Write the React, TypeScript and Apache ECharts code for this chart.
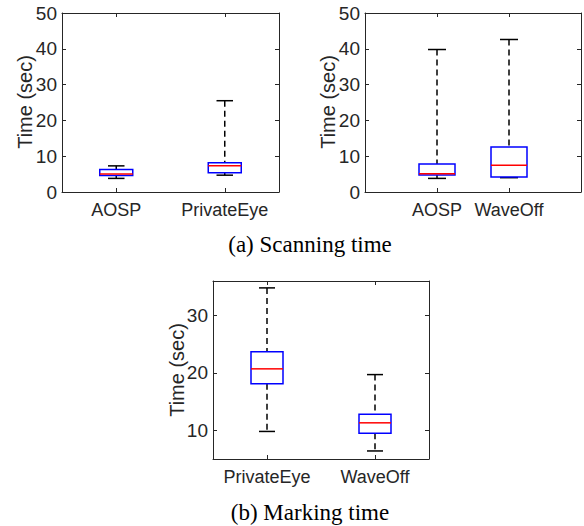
import React, { useEffect, useRef } from "react";
import * as echarts from "echarts";

// ---- data ----
const scanCatsA = ["AOSP", "PrivateEye"];
// [low whisker, Q1, median, Q3, high whisker]
const scanStatsA = [
  [3.8, 4.6, 5.0, 6.3, 7.3],
  [4.7, 5.4, 7.3, 8.2, 25.5],
];
const scanCatsB = ["", "AOSP", "WaveOff", ""];
const scanStatsB = [
  [3.8, 4.75, 5.1, 7.8, 39.8],
  [4.0, 4.2, 7.5, 12.6, 42.6],
];
const scanBIndices = [1, 2];
const markCats = ["PrivateEye", "WaveOff"];
const markStats = [
  [9.8, 18.1, 20.7, 23.7, 34.8],
  [6.4, 9.5, 11.3, 12.8, 19.7],
];
const scanTicks = [0, 10, 20, 30, 40, 50];
const markTicks = [10, 20, 30];
const yName = "Time (sec)";
const captionA = "(a) Scanning time";
const captionB = "(b) Marking time";

const AX = "#262626";
const SANS = "'Liberation Sans', Arial, Helvetica, sans-serif";
const SERIF = "'Liberation Serif', 'Times New Roman', serif";

function makeRender(boxW: number) {
  return (params: any, api: any) => {
    const x = api.value(0);
    const low = api.coord([x, api.value(1)]);
    const q1 = api.coord([x, api.value(2)]);
    const med = api.coord([x, api.value(3)]);
    const q3 = api.coord([x, api.value(4)]);
    const high = api.coord([x, api.value(5)]);
    const cx = low[0];
    const hw = boxW / 2;
    const cw = boxW / 4;
    const dash = { stroke: "#000", lineWidth: 1.5, lineDash: [6, 4], fill: "none" };
    const solid = { stroke: "#000", lineWidth: 1.5, fill: "none" };
    return {
      type: "group",
      children: [
        { type: "line", shape: { x1: cx, y1: high[1], x2: cx, y2: q3[1] }, style: dash },
        { type: "line", shape: { x1: cx, y1: q1[1], x2: cx, y2: low[1] }, style: dash },
        { type: "line", shape: { x1: cx - cw, y1: high[1], x2: cx + cw, y2: high[1] }, style: solid },
        { type: "line", shape: { x1: cx - cw, y1: low[1], x2: cx + cw, y2: low[1] }, style: solid },
        {
          type: "rect",
          shape: { x: cx - hw, y: q3[1], width: boxW, height: q1[1] - q3[1] },
          style: { stroke: "#0000FF", lineWidth: 1.5, fill: "none" },
        },
        {
          type: "line",
          shape: { x1: cx - hw, y1: med[1], x2: cx + hw, y2: med[1] },
          style: { stroke: "#FF0000", lineWidth: 1.5 },
        },
      ],
    };
  };
}

function catAxes(gridIndex: number, data: string[], boundaryGap: boolean) {
  const common = {
    type: "category",
    gridIndex,
    data,
    boundaryGap,
    axisLine: { show: true, onZero: false, lineStyle: { color: AX, width: 1 } },
    axisTick: { show: true, inside: true, length: 4, alignWithLabel: true, interval: 0, lineStyle: { color: AX } },
  };
  return [
    {
      ...common,
      position: "bottom",
      axisLabel: { show: true, interval: 0, margin: 9, color: AX, fontSize: 18, fontFamily: SANS },
    },
    { ...common, position: "top", axisLabel: { show: false } },
  ];
}

function valAxes(gridIndex: number, min: number, max: number, ticks: number[]) {
  const common = {
    type: "value",
    gridIndex,
    min,
    max,
    splitLine: { show: false },
    axisLine: { show: true, onZero: false, lineStyle: { color: AX, width: 1 } },
    axisTick: { show: true, inside: true, length: 4, customValues: ticks, lineStyle: { color: AX } },
  };
  return [
    {
      ...common,
      position: "left",
      axisLabel: { show: true, customValues: ticks, margin: 5, color: AX, fontSize: 19, fontFamily: SANS },
    },
    { ...common, position: "right", axisLabel: { show: false } },
  ];
}

function rotText(x: number, y: number, text: string) {
  return {
    type: "text",
    x,
    y,
    rotation: Math.PI / 2,
    style: {
      text,
      fill: AX,
      font: `20px ${SANS}`,
      textAlign: "center",
      textVerticalAlign: "middle",
      align: "center",
      verticalAlign: "middle",
    },
  };
}

function caption(x: number, y: number, text: string) {
  return {
    type: "text",
    x,
    y,
    style: {
      text,
      fill: "#000",
      font: `23px ${SERIF}`,
      textAlign: "center",
      textVerticalAlign: "middle",
      align: "center",
      verticalAlign: "middle",
    },
  };
}

export default function App() {
  const ref = useRef<HTMLDivElement>(null);
  useEffect(() => {
    document.body.style.margin = "0";
    if (!ref.current) return;
    const chart = echarts.init(ref.current, undefined, { renderer: "svg" });
    const dataA = scanStatsA.map((s, i) => [i, ...s]);
    const dataB = scanStatsB.map((s, i) => [scanBIndices[i], ...s]);
    const dataC = markStats.map((s, i) => [i, ...s]);
    chart.setOption({
      animation: false,
      backgroundColor: "#fff",
      grid: [
        { left: 62, top: 13, width: 217, height: 179 },
        { left: 365, top: 13, width: 216, height: 179 },
        { left: 213, top: 281, width: 216, height: 178 },
      ],
      xAxis: [
        ...catAxes(0, scanCatsA, true),
        ...catAxes(1, scanCatsB, false),
        ...catAxes(2, markCats, true),
      ],
      yAxis: [
        ...valAxes(0, 0, 50, scanTicks),
        ...valAxes(1, 0, 50, scanTicks),
        ...valAxes(2, 5, 36, markTicks),
      ],
      series: [
        {
          type: "custom",
          xAxisIndex: 0,
          yAxisIndex: 0,
          renderItem: makeRender(33),
          encode: { x: 0, y: [1, 2, 3, 4, 5] },
          data: dataA,
        },
        {
          type: "custom",
          xAxisIndex: 2,
          yAxisIndex: 2,
          renderItem: makeRender(36),
          encode: { x: 0, y: [1, 2, 3, 4, 5] },
          data: dataB,
        },
        {
          type: "custom",
          xAxisIndex: 4,
          yAxisIndex: 4,
          renderItem: makeRender(32),
          encode: { x: 0, y: [1, 2, 3, 4, 5] },
          data: dataC,
        },
      ],
      graphic: [
        rotText(25, 102, yName),
        rotText(328, 102, yName),
        rotText(177, 370, yName),
        caption(310, 244, captionA),
        caption(310, 512, captionB),
      ],
    });
    return () => chart.dispose();
  }, []);
  return <div ref={ref} style={{ width: 584, height: 526 }} />;
}
